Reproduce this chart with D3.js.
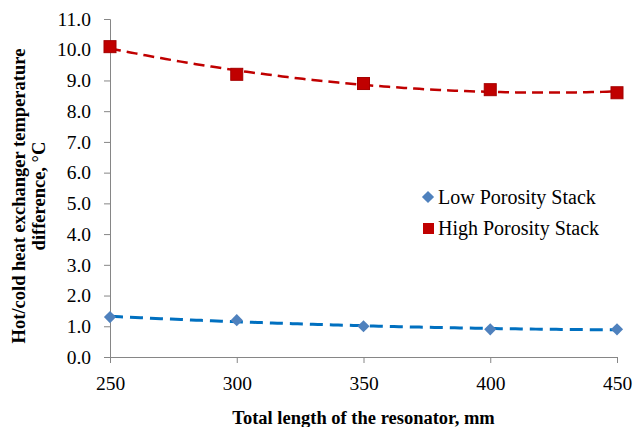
<!DOCTYPE html>
<html lang="en">
<head>
<meta charset="UTF-8">
<title>stack-temperature</title>
<style>
    body { margin: 0; background: #fff; }
</style>
<script src="https://d3js.org/d3.v7.min.js"></script>
</head>
<body>
<script>
    // data
    let lengths = [250, 300, 350, 400, 450]
    let lowPorosity = [1.3, 1.2, 1.0, 0.9, 0.9]
    let highPorosity = [10.1, 9.2, 8.9, 8.7, 8.6]
    let yTicks = [0, 1, 2, 3, 4, 5, 6, 7, 8, 9, 10, 11]
    let seriesNames = ["Low Porosity Stack", "High Porosity Stack"]

    let serif = "'Liberation Serif', 'Times New Roman', serif"
    let width = 636, height = 427
    let margin = {left: 110, right: 19, top: 19, bottom: 70}

    let svg = d3.select("body").append("svg")
        .attr("width", width).attr("height", height)

    let x = d3.scaleLinear().domain([250, 450]).range([margin.left, width - margin.right])
    let y = d3.scaleLinear().domain([0, 11]).range([height - margin.bottom, margin.top])

    let axisColor = "#868686"

    // y axis
    let yAxis = svg.append("g")
        .attr("transform", "translate(" + margin.left + ",0)")
        .call(d3.axisLeft(y).tickValues(yTicks).tickSize(6).tickPadding(13).tickFormat(d3.format(".1f")))
    yAxis.select(".domain").attr("stroke", axisColor)
    yAxis.selectAll(".tick line").attr("stroke", axisColor)
    yAxis.selectAll(".tick text")
        .style("font-family", serif).style("font-size", "19.5px").style("fill", "#000")

    // x axis
    let xAxis = svg.append("g")
        .attr("transform", "translate(0," + y(0) + ")")
        .call(d3.axisBottom(x).tickValues(lengths).tickSize(6).tickPadding(13))
    xAxis.select(".domain").attr("stroke", axisColor)
    xAxis.selectAll(".tick line").attr("stroke", axisColor)
    xAxis.selectAll(".tick text")
        .style("font-family", serif).style("font-size", "19.5px").style("fill", "#000")

    // second order polynomial trend line (least squares), like a spreadsheet trendline
    function polyFit(xs, ys) {
        let mx = d3.mean(xs)
        let t = xs.map(v => (v - mx))
        let s2 = d3.mean(t.map(v => v * v))
        let q = t.map(v => v * v - s2)
        let a = d3.mean(ys)
        let b = d3.sum(t.map((v, i) => v * ys[i])) / d3.sum(t.map(v => v * v))
        let c = d3.sum(q.map((v, i) => v * ys[i])) / d3.sum(q.map(v => v * v))
        return function (xv) {
            let tv = xv - mx
            return a + b * tv + c * (tv * tv - s2)
        }
    }

    let line = d3.line().x(d => x(d[0])).y(d => y(d[1]))
    let samples = d3.range(250, 450.1, 2)

    let lowFit = polyFit(lengths, lowPorosity)
    let highFit = polyFit(lengths, highPorosity)

    svg.append("path")
        .datum(samples.map(v => [v, highFit(v)]))
        .attr("d", line)
        .attr("fill", "none")
        .attr("stroke", "#C00000")
        .attr("stroke-width", 2.5)
        .attr("stroke-dasharray", "11,6")

    svg.append("path")
        .datum(samples.map(v => [v, lowFit(v)]))
        .attr("d", line)
        .attr("fill", "none")
        .attr("stroke", "#0070C0")
        .attr("stroke-width", 3)
        .attr("stroke-dasharray", "13,7")

    // markers
    let diamond = d3.symbol().type(d3.symbolSquare).size(74)
    svg.append("g").selectAll("path")
        .data(lengths.map((v, i) => [v, lowPorosity[i]]))
        .enter().append("path")
        .attr("d", diamond)
        .attr("transform", d => "translate(" + x(d[0]) + "," + y(d[1]) + ") rotate(45)")
        .attr("fill", "#4F81BD")

    svg.append("g").selectAll("rect")
        .data(lengths.map((v, i) => [v, highPorosity[i]]))
        .enter().append("rect")
        .attr("x", d => x(d[0]) - 6)
        .attr("y", d => y(d[1]) - 6)
        .attr("width", 12).attr("height", 12)
        .attr("fill", "#C00000")
        .attr("stroke", "#A50000")
        .attr("stroke-width", 1)

    // legend
    let legend = svg.append("g")
    legend.append("path")
        .attr("d", diamond)
        .attr("transform", "translate(428,197) rotate(45)")
        .attr("fill", "#4F81BD")
    legend.append("rect")
        .attr("x", 423).attr("y", 223).attr("width", 11).attr("height", 11)
        .attr("fill", "#C00000")
    legend.selectAll("text.lg")
        .data(seriesNames)
        .enter().append("text")
        .attr("class", "lg")
        .attr("x", 438)
        .attr("y", (d, i) => 204 + i * 31)
        .style("font-family", serif)
        .style("font-size", "20px")
        .text(d => d)

    // axis titles
    svg.append("text")
        .attr("x", x(350))
        .attr("y", 424)
        .attr("text-anchor", "middle")
        .style("font-family", serif)
        .style("font-size", "18.5px")
        .style("font-weight", "bold")
        .text("Total length of the resonator, mm")

    let yTitle = svg.append("text")
        .attr("transform", "translate(25,196) rotate(-90)")
        .attr("text-anchor", "middle")
        .style("font-family", serif)
        .style("font-size", "18.5px")
        .style("font-weight", "bold")
    yTitle.append("tspan").attr("x", 0).attr("y", 0).text("Hot/cold heat exchanger temperature")
    yTitle.append("tspan").attr("x", 0).attr("y", 20).text("difference, \u00B0C")
</script>
</body>
</html>
